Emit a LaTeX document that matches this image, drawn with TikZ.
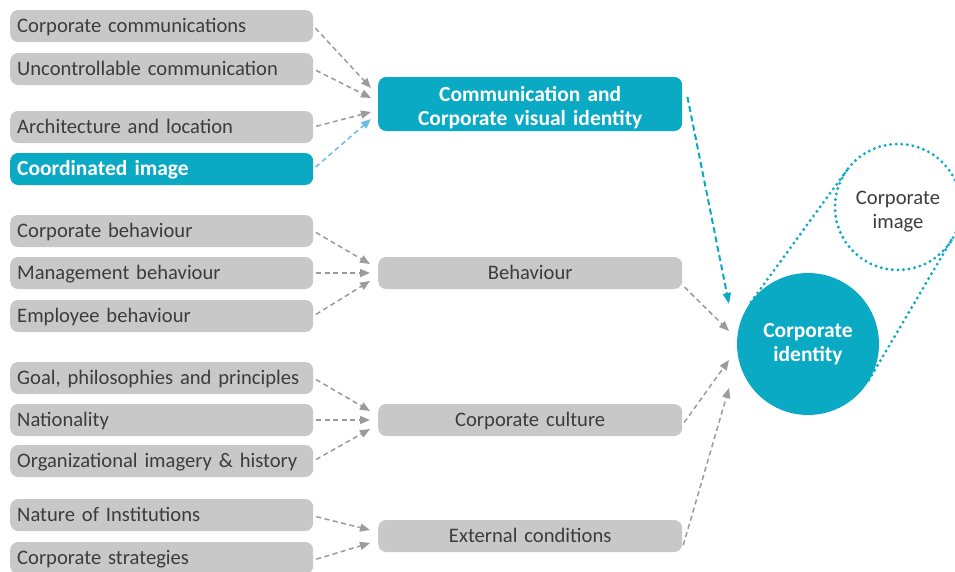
\documentclass[tikz,border=0pt]{standalone}
\usepackage{fontspec}
\setmainfont{Carlito}
\usetikzlibrary{arrows.meta}
\definecolor{teal1}{RGB}{10,170,196}
\definecolor{boxgray}{RGB}{200,200,200}
\definecolor{arrgray}{RGB}{155,155,155}
\definecolor{txtgray}{RGB}{60,60,60}
\definecolor{lblue}{RGB}{105,190,232}
\tikzset{
  lbox/.style={rounded corners=8pt, fill=boxgray, minimum width=303pt, minimum height=32pt,
    text width=289pt, align=left, inner xsep=7pt, inner ysep=0pt, anchor=west,
    text height=16pt, text depth=3pt,
    font=\fontsize{20.6}{22}\selectfont, text=txtgray},
  lteal/.style={lbox, fill=teal1, text=white, font=\fontsize{21.5}{22}\selectfont\bfseries},
  mbox/.style={rounded corners=8pt, fill=boxgray, minimum width=304pt, minimum height=32pt,
    text width=290pt, align=center, inner sep=0pt, anchor=west,
    text height=16pt, text depth=3pt,
    font=\fontsize{20.6}{22}\selectfont, text=txtgray},
  garrow/.style={draw=arrgray, line width=1.5pt, dash pattern=on 5pt off 3.5pt,
    -{Triangle[length=10pt,width=8pt]}, arrgray, shorten <=3pt},
  barrow/.style={garrow, draw=lblue, lblue},
  tarrow/.style={draw=teal1, line width=2pt, dash pattern=on 6pt off 3.5pt,
    -{Triangle[length=11pt,width=8pt]}, teal1},
  dotline/.style={draw=teal1, line width=3.2pt, dash pattern=on 0pt off 5.6pt, line cap=round},
}
\begin{document}
\begin{tikzpicture}[x=1pt,y=-1pt]
\useasboundingbox (0,0) rectangle (955,571);
\clip (0,0) rectangle (955,571);
\fill[white] (0,0) rectangle (955,571);
% left boxes
\node[lbox] (l1) at (10,26) {Corporate communications};
\node[lbox] (l2) at (10,69) {Uncontrollable communication};
\node[lbox] (l3) at (10,127) {Architecture and location};
\node[lteal] (l4) at (10,169) {Coordinated image};
\node[lbox] (l5) at (10,231) {Corporate behaviour};
\node[lbox] (l6) at (10,273) {Management behaviour};
\node[lbox] (l7) at (10,316) {Employee behaviour};
\node[lbox] (l8) at (10,378) {Goal, philosophies and principles};
\node[lbox] (l9) at (10,420) {Nationality};
\node[lbox] (l10) at (10,461) {Organizational imagery \& history};
\node[lbox] (l11) at (10,515) {Nature of Institutions};
\node[lbox] (l12) at (10,558) {Corporate strategies};
% middle boxes
\node[rounded corners=8pt, fill=teal1, minimum width=304pt, minimum height=54pt,
  text width=290pt, align=center, inner sep=0pt, anchor=west, text=white,
  font=\fontsize{21.5}{23.5}\selectfont\bfseries] (m1) at (378,104)
  {\rule{0pt}{22pt}Communication and\\Corporate visual identity};
\node[mbox] (m2) at (378,273) {Behaviour};
\node[mbox] (m3) at (378,420) {Corporate culture};
\node[mbox] (m4) at (378,536) {External conditions};
% tangent lines and circles
\coordinate (ta1) at (751,302);
\coordinate (tb1) at (847,170);
\coordinate (ta2) at (869,380);
\coordinate (tb2) at (952,239);
\draw[dotline] (ta1) -- (tb1);
\draw[dotline] (ta2) -- (tb2);
\node[circle, draw=teal1, line width=3.2pt, dash pattern=on 0pt off 5.6pt, line cap=round,
  minimum size=126pt, inner sep=0pt, align=center, text=txtgray,
  font=\fontsize{20.6}{24.5}\selectfont] (cim) at (898,207) {\rule{0pt}{23pt}Corporate\\image};
\node[circle, fill=teal1, minimum size=142pt, inner sep=0pt, align=center, text=white,
  font=\fontsize{21.5}{24.5}\selectfont\bfseries] (cid) at (808,344) {Corporate\\identity};
% target coordinates
\coordinate (a1) at (371,88);
\coordinate (a2) at (371,98);
\coordinate (a3) at (371,112);
\coordinate (a4) at (371,119);
\coordinate (b1) at (370,264);
\coordinate (b2) at (370,273);
\coordinate (b3) at (370,281);
\coordinate (c1) at (370,411);
\coordinate (c2) at (370,420);
\coordinate (c3) at (370,429);
\coordinate (d1) at (370,530);
\coordinate (d2) at (370,543);
\coordinate (e1) at (729,304);
\coordinate (e2) at (729,331);
\coordinate (e3) at (729,360);
\coordinate (e4) at (729,388);
% arrows
\draw[garrow] (l1.east) -- (a1);
\draw[garrow] (l2.east) -- (a2);
\draw[garrow] (l3.east) -- (a3);
\draw[barrow] (l4.east) -- (a4);
\draw[garrow] (l5.east) -- (b1);
\draw[garrow] (l6.east) -- (b2);
\draw[garrow] (l7.east) -- (b3);
\draw[garrow] (l8.east) -- (c1);
\draw[garrow] (l9.east) -- (c2);
\draw[garrow] (l10.east) -- (c3);
\draw[garrow] ([yshift=-1pt]l11.east) -- (d1);
\draw[garrow] ([yshift=-2pt]l12.east) -- (d2);
\draw[tarrow, shorten <=0pt] ([xshift=5pt,yshift=-20pt]m1.north east) -- (e1);
\draw[garrow] ([yshift=-12pt]m2.east) -- (e2);
\draw[garrow] ([yshift=-5pt]m3.east) -- (e3);
\draw[garrow] ([yshift=-12pt]m4.east) -- (e4);
\end{tikzpicture}
\end{document}
